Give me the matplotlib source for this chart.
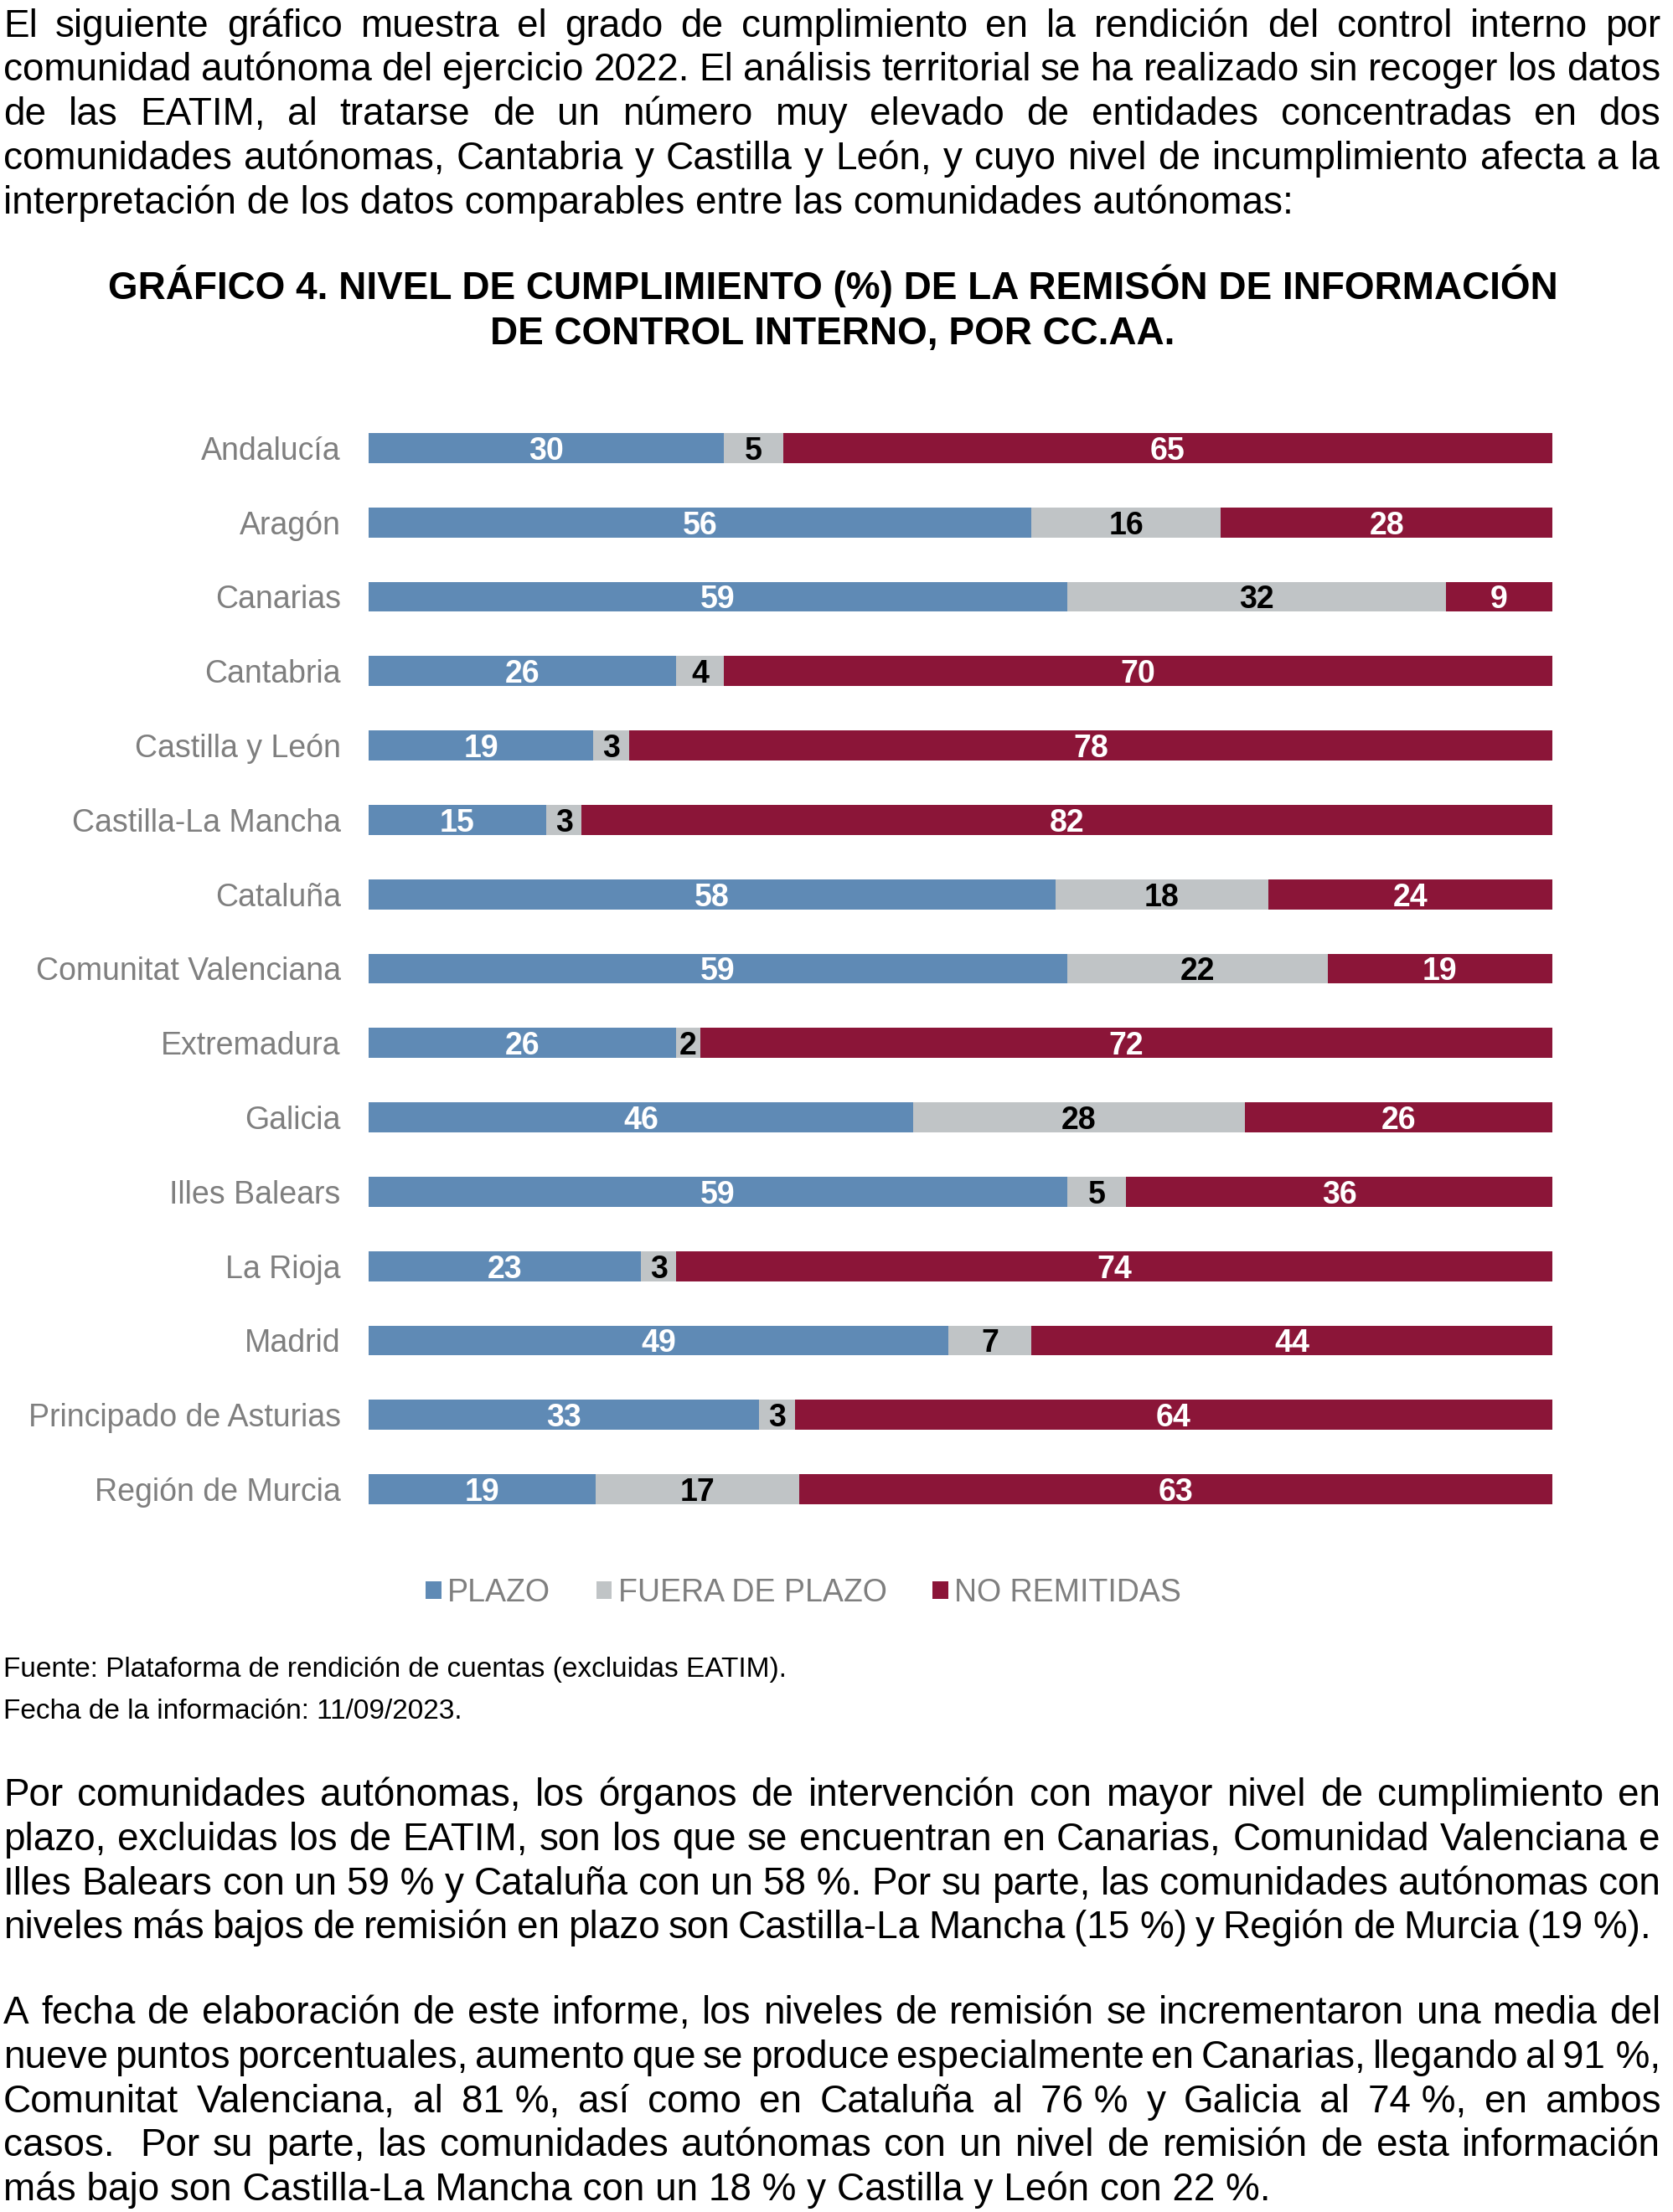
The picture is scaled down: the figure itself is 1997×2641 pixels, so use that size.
import re
import matplotlib
matplotlib.use('Agg')
import matplotlib.pyplot as plt
import numpy as np

# datos del grafico 4 (porcentaje por CC.AA.)
regions = ["Andalucía", "Aragón", "Canarias", "Cantabria", "Castilla y León",
           "Castilla-La Mancha", "Cataluña", "Comunitat Valenciana", "Extremadura",
           "Galicia", "Illes Balears", "La Rioja", "Madrid",
           "Principado de Asturias", "Región de Murcia"]
plazo = [30, 56, 59, 26, 19, 15, 58, 59, 26, 46, 59, 23, 49, 33, 19]
fuera_plazo = [5, 16, 32, 4, 3, 3, 18, 22, 2, 28, 5, 3, 7, 3, 17]
no_remitidas = [65, 28, 9, 70, 78, 82, 24, 19, 72, 26, 36, 74, 44, 64, 63]

series_names = ["PLAZO", "FUERA DE PLAZO", "NO REMITIDAS"]
series_colors = ["#5F8AB5", "#C0C4C6", "#8B1538"]
value_colors = ["white", "black", "white"]

title_lines = ["GRÁFICO 4. NIVEL DE CUMPLIMIENTO (%) DE LA REMISÓN DE INFORMACIÓN",
               "DE CONTROL INTERNO, POR CC.AA."]

intro = [
    "El siguiente gráfico muestra el grado de cumplimiento en la rendición del control interno por",
    "comunidad autónoma del ejercicio 2022. El análisis territorial se ha realizado sin recoger los datos",
    "de las EATIM, al tratarse de un número muy elevado de entidades concentradas en dos",
    "comunidades autónomas, Cantabria y Castilla y León, y cuyo nivel de incumplimiento afecta a la",
    "interpretación de los datos comparables entre las comunidades autónomas:",
]
para2 = [
    "Por comunidades autónomas, los órganos de intervención con mayor nivel de cumplimiento en",
    "plazo, excluidas los de EATIM, son los que se encuentran en Canarias, Comunidad Valenciana e",
    "Illes Balears con un 59 % y Cataluña con un 58 %. Por su parte, las comunidades autónomas con",
    "niveles más bajos de remisión en plazo son Castilla-La Mancha (15 %) y Región de Murcia (19 %).",
]
para3 = [
    "A fecha de elaboración de este informe, los niveles de remisión se incrementaron una media del",
    "nueve puntos porcentuales, aumento que se produce especialmente en Canarias, llegando al 91 %,",
    "Comunitat Valenciana, al 81 %, así como en Cataluña al 76 % y Galicia al 74 %, en ambos",
    "casos.  Por su parte, las comunidades autónomas con un nivel de remisión de esta información",
    "más bajo son Castilla-La Mancha con un 18 % y Castilla y León con 22 %.",
]
source_lines = ["Fuente: Plataforma de rendición de cuentas (excluidas EATIM).",
                "Fecha de la información: 11/09/2023."]

W, H = 1997, 2641
plt.rcParams['font.family'] = ['Liberation Sans', 'DejaVu Sans']
fig = plt.figure(figsize=(W / 100, H / 100), dpi=100)
renderer = fig.canvas.get_renderer()


def fx(px):
    return px / W


def fy(py):
    return 1 - py / H


def justify(line, y, size, left, right):
    words = re.split(r' (?!%)', line)
    arts = [fig.text(0, y, w, fontsize=size, va='baseline', ha='left') for w in words]
    widths = [a.get_window_extent(renderer).width if w else 0 for a, w in zip(arts, words)]
    gap = (right - left - sum(widths)) / (len(words) - 1)
    x = left
    for a, wd in zip(arts, widths):
        a.set_x(fx(x))
        x += wd + gap


def paragraph(lines, first_baseline, size=33, left=4, right=1982, step=52.8, last_right=None):
    # texto justificado a mano, la ultima linea va alineada a la izquierda
    for i, line in enumerate(lines):
        y = fy(first_baseline + i * step)
        if i < len(lines) - 1:
            justify(line, y, size, left, right)
        elif last_right is not None:
            justify(line, y, size, left, last_right)
        else:
            fig.text(fx(left), y, line, fontsize=size, va='baseline', ha='left')


paragraph(intro, 43.5)
paragraph(para2, 2156, last_right=1971)
paragraph(para3, 2416)

for i, line in enumerate(title_lines):
    fig.text(fx(994), fy(357 + i * 54), line, ha='center', va='baseline',
             fontsize=33, fontweight='bold')

for i, line in enumerate(source_lines):
    fig.text(fx(4), fy(2002 + i * 50), line, ha='left', va='baseline', fontsize=24)

# barras apiladas al 100 %
ax = fig.add_axes([fx(440), fy(1822.5), 1413 / W, 1332 / H])
y = np.arange(len(regions))
data = np.array([plazo, fuera_plazo, no_remitidas], dtype=float)
shares = data / data.sum(axis=0) * 100
left = np.zeros(len(regions))
for k in range(len(series_names)):
    ax.barh(y, shares[k], left=left, height=0.405, color=series_colors[k],
            label=series_names[k])
    for yi, l, s, v in zip(y, left, shares[k], data[k]):
        ax.text(l + s / 2, yi, '{:d}'.format(int(v)), ha='center', va='center_baseline',
                color=value_colors[k], fontsize=27, fontweight='bold')
    left += shares[k]

ax.set_xlim(0, 100)
ax.set_ylim(len(regions) - 0.5, -0.5)
ax.set_yticks(y, regions)
ax.set_xticks([])
ax.tick_params(axis='y', length=0, pad=24, labelsize=27, labelcolor='#7F7F7F')
for s in ax.spines.values():
    s.set_visible(False)

ax.legend(loc='center', bbox_to_anchor=(fx(959), fy(1902)), bbox_transform=fig.transFigure,
          ncol=3, frameon=False, fontsize=27, handlelength=0.5, handleheight=0.5,
          handletextpad=0.2, columnspacing=1.45, labelcolor='#7F7F7F',
          borderaxespad=0, borderpad=0)

fig.savefig('out.png', dpi=100)
